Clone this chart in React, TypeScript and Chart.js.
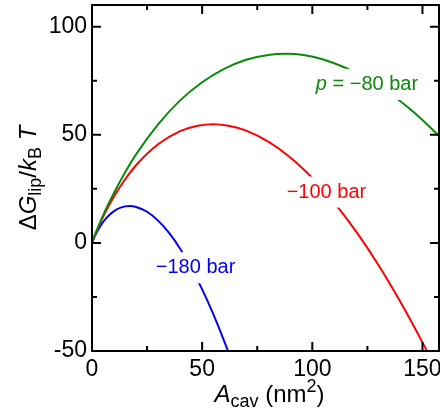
import React, { useEffect, useRef } from "react";
import { Chart, registerables } from "chart.js";

Chart.register(...registerables);

// ---- data ----
const area80 = [0, 1, 2, 4, 6, 10, 15, 20, 30, 40, 50, 60, 70, 80, 88, 96, 105, 115, 125, 135, 145, 152, 160];
const dG80 = [0, 2.8, 5.4, 10.3, 14.9, 23.2, 32.6, 40.9, 54.8, 65.9, 74.3, 80.5, 84.7, 86.9, 87.4, 86.9, 84.8, 81.0, 75.9, 69.3, 61.3, 54.9, 46.9];

const area100 = [0, 1, 2, 4, 6, 10, 15, 20, 30, 40, 48, 55, 62, 70, 80, 90, 100, 110, 120, 130, 140, 150, 156];
const dG100 = [0, 2.7, 5.2, 9.8, 14.0, 21.5, 29.3, 35.9, 45.6, 51.7, 54.2, 54.9, 54.2, 51.9, 46.8, 39.5, 30.0, 18.5, 5.1, -10.2, -27.3, -46.0, -58.0];

const area180 = [0, 1, 2, 4, 6, 8, 10, 13, 17, 20, 25, 30, 35, 40, 45, 50, 55, 60, 64];
const dG180 = [0, 2.5, 4.6, 8.1, 10.9, 13.0, 14.7, 16.3, 17.0, 16.6, 14.4, 10.3, 4.6, -2.7, -11.4, -21.5, -32.8, -45.4, -56.3];

const seriesNames = ["p = −80 bar", "−100 bar", "−180 bar"];
const labelX = [124.8, 106.4, 47];
const labelY = [73.3, 23.5, -11.5];

const xMajorTicks = [0, 50, 100, 150];
const xMinorTicks = [25, 75, 125];
const yMajorTicks = [-50, 0, 50, 100];
const yMinorTicks = [-25, 25, 75];

const X_MIN = 0;
const X_MAX = 157.5;
const Y_MIN = -50;
const Y_MAX = 110;

// ---- styles ----
const COLORS = ["#0a8a0a", "#ff0000", "#0000f0"];
const FAMILY = '"Liberation Sans", Arial, Helvetica, sans-serif';

type Seg = { t: string; it?: boolean; sub?: boolean; sup?: boolean };

function fontStr(size: number, italic: boolean) {
  return `${italic ? "italic " : ""}${size}px ${FAMILY}`;
}

function measureRich(ctx: CanvasRenderingContext2D, segs: Seg[], size: number, small: number) {
  return segs.map((s) => {
    ctx.font = fontStr(s.sub || s.sup ? small : size, !!s.it);
    return ctx.measureText(s.t).width;
  });
}

function drawRich(
  ctx: CanvasRenderingContext2D,
  segs: Seg[],
  x: number,
  y: number,
  size: number,
  small: number
) {
  const widths = measureRich(ctx, segs, size, small);
  const total = widths.reduce((a, b) => a + b, 0);
  let cx = x - total / 2;
  ctx.textAlign = "left";
  segs.forEach((s, i) => {
    ctx.font = fontStr(s.sub || s.sup ? small : size, !!s.it);
    const dy = s.sub ? size * 0.22 : s.sup ? -size * 0.42 : 0;
    ctx.fillText(s.t, cx, y + dy);
    cx += widths[i];
  });
  return total;
}

const yTitle: Seg[] = [
  { t: "Δ" },
  { t: "G", it: true },
  { t: "lip", sub: true },
  { t: "/" },
  { t: "k", it: true },
  { t: "B", sub: true },
  { t: " " },
  { t: "T", it: true },
];
const xTitle: Seg[] = [
  { t: "A", it: true },
  { t: "cav", sub: true },
  { t: " (" },
  { t: "nm" },
  { t: "2", sup: true },
  { t: ")" },
];

function labelSegs(name: string): Seg[] {
  if (name.startsWith("p ")) return [{ t: "p", it: true }, { t: name.slice(1) }];
  return [{ t: name }];
}

const decorPlugin = {
  id: "decor",
  afterDatasetsDraw(chart: any) {
    const ctx: CanvasRenderingContext2D = chart.ctx;
    const xs = chart.scales.x;
    const ys = chart.scales.y;
    ctx.save();
    seriesNames.forEach((name, i) => {
      const segs = labelSegs(name);
      const px = xs.getPixelForValue(labelX[i]);
      const py = ys.getPixelForValue(labelY[i]);
      const widths = measureRich(ctx, segs, 20, 20);
      const w = widths.reduce((a, b) => a + b, 0);
      ctx.fillStyle = "#ffffff";
      ctx.fillRect(px - w / 2 - 3, py - 15.5, w + 6, 31);
      ctx.fillStyle = COLORS[i];
      ctx.textBaseline = "middle";
      drawRich(ctx, segs, px, py, 20, 20);
    });
    ctx.restore();
  },
  afterDraw(chart: any) {
    const ctx: CanvasRenderingContext2D = chart.ctx;
    const { left, right, top, bottom } = chart.chartArea;
    const xs = chart.scales.x;
    const ys = chart.scales.y;
    ctx.save();
    ctx.strokeStyle = "#000";
    ctx.lineWidth = 2;
    ctx.strokeRect(left, top, right - left, bottom - top);
    const tick = (vals: number[], len: number) => {
      vals.forEach((v) => {
        const px = xs.getPixelForValue(v);
        ctx.beginPath();
        ctx.moveTo(px, bottom);
        ctx.lineTo(px, bottom - len);
        ctx.moveTo(px, top);
        ctx.lineTo(px, top + len);
        ctx.stroke();
      });
    };
    const ytick = (vals: number[], len: number) => {
      vals.forEach((v) => {
        const py = ys.getPixelForValue(v);
        ctx.beginPath();
        ctx.moveTo(left, py);
        ctx.lineTo(left + len, py);
        ctx.moveTo(right, py);
        ctx.lineTo(right - len, py);
        ctx.stroke();
      });
    };
    tick(xMajorTicks, 9);
    tick(xMinorTicks, 5);
    ytick(yMajorTicks, 9);
    ytick(yMinorTicks, 5);

    ctx.fillStyle = "#000";
    ctx.textBaseline = "alphabetic";
    // x title
    drawRich(ctx, xTitle, (left + right) / 2 + 4, bottom + 51, 24, 18);
    // y title
    ctx.translate(left - 56, (top + bottom) / 2);
    ctx.rotate(-Math.PI / 2);
    drawRich(ctx, yTitle, 0, 0, 24, 18);
    ctx.restore();
  },
};

function zip(xs: number[], ys: number[]) {
  return xs.map((x, i) => ({ x, y: ys[i] }));
}

export default function App() {
  const ref = useRef<HTMLCanvasElement | null>(null);
  useEffect(() => {
    document.body.style.margin = "0";
    const canvas = ref.current;
    if (!canvas) return;
    const seriesData = [zip(area80, dG80), zip(area100, dG100), zip(area180, dG180)];
    const chart = new Chart(canvas, {
      type: "scatter",
      data: {
        datasets: seriesData.map((d, i) => ({
          label: seriesNames[i],
          data: d,
          showLine: true,
          borderColor: COLORS[i],
          backgroundColor: COLORS[i],
          borderWidth: 2,
          pointRadius: 0,
          fill: false,
          cubicInterpolationMode: "monotone" as const,
        })),
      },
      options: {
        responsive: false,
        animation: false,
        devicePixelRatio: 1,
        layout: { padding: { left: 0, right: 1, top: 5, bottom: 0 } },
        plugins: { legend: { display: false }, tooltip: { enabled: false } },
        scales: {
          x: {
            type: "linear",
            min: X_MIN,
            max: X_MAX,
            grid: { display: false, drawTicks: false },
            border: { display: false },
            ticks: { color: "#000", font: { size: 23, family: FAMILY }, padding: 5, maxRotation: 0 },
            afterBuildTicks: (s: any) => {
              s.ticks = xMajorTicks.map((v) => ({ value: v }));
            },
            afterFit: (s: any) => {
              s.height = 61;
              s.paddingLeft = 0;
              s.paddingRight = 0;
            },
          },
          y: {
            type: "linear",
            min: Y_MIN,
            max: Y_MAX,
            grid: { display: false, drawTicks: false },
            border: { display: false },
            ticks: { color: "#000", font: { size: 23, family: FAMILY }, padding: 5 },
            afterBuildTicks: (s: any) => {
              s.ticks = yMajorTicks.map((v) => ({ value: v }));
            },
            afterFit: (s: any) => {
              s.width = 92;
              s.paddingTop = 0;
              s.paddingBottom = 0;
            },
          },
        },
      },
      plugins: [decorPlugin],
    } as any);
    return () => chart.destroy();
  }, []);
  return (
    <div style={{ width: 440, height: 412 }}>
      <canvas ref={ref} width={440} height={412} style={{ display: "block" }} />
    </div>
  );
}
